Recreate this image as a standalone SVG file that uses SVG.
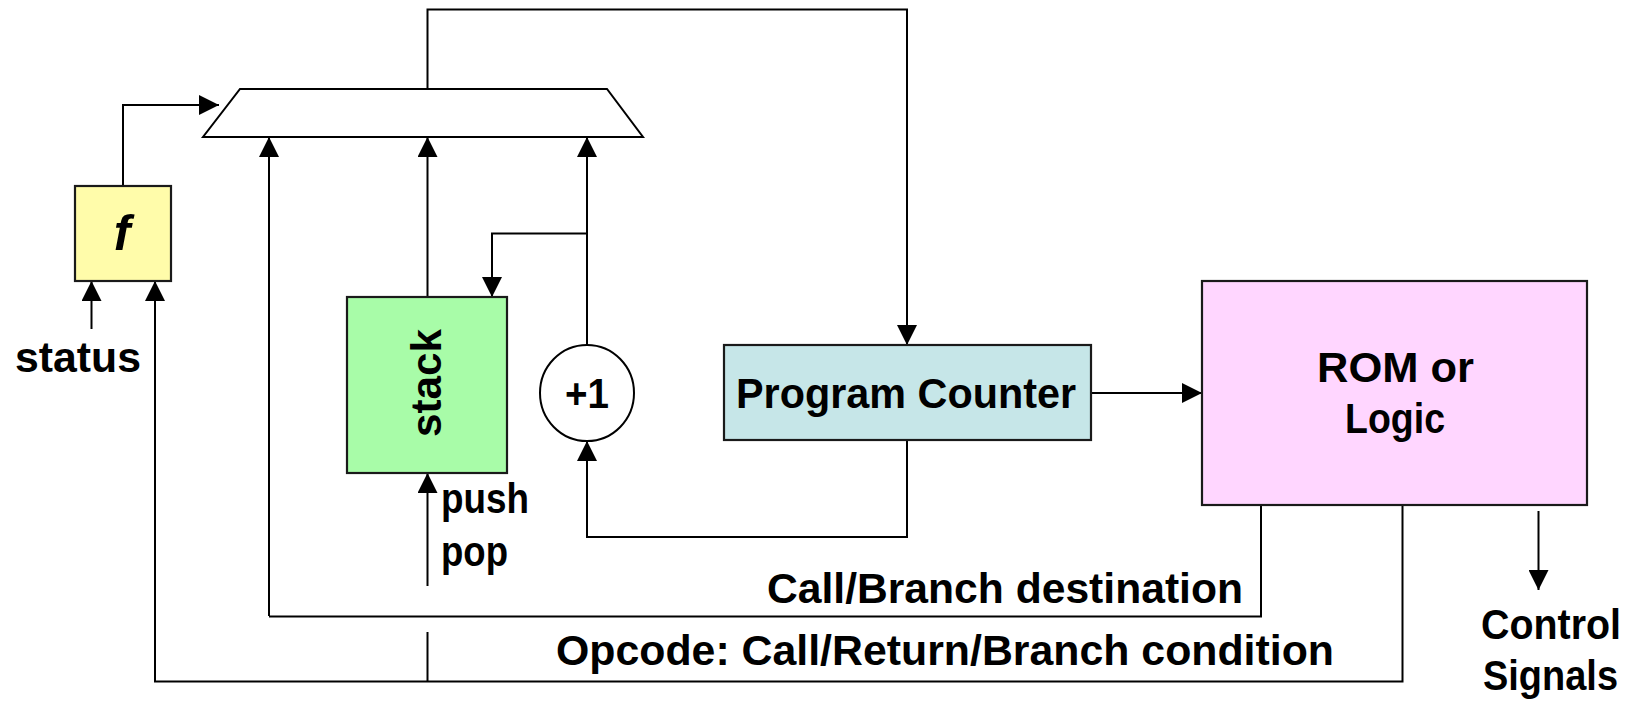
<svg xmlns="http://www.w3.org/2000/svg" width="1635" height="702" viewBox="0 0 1635 702">
  <style>
    .box { stroke: #1a1a1a; stroke-width: 2.2; }
    .wire { fill: none; stroke: #000; stroke-width: 2; }
    .arr { marker-end: url(#head); }
    text { font-family: "Liberation Sans", Arial, sans-serif; font-weight: bold; font-size: 42px; fill: #000; }
  </style>
  <defs>
    <marker id="head" viewBox="0 0 20 20" refX="20" refY="10" markerWidth="20" markerHeight="20" markerUnits="userSpaceOnUse" orient="auto">
      <path d="M0,0 L20,10 L0,20 z" fill="#000"/>
    </marker>
  </defs>
  <rect width="1635" height="702" fill="#fff"/>

  <!-- connectors -->
  <g id="connectors">
    <!-- mux output back to the program counter -->
    <polyline class="wire arr" points="427.5,89 427.5,9.5 907,9.5 907,345"/>
    <!-- f output to mux select -->
    <polyline class="wire arr" points="123,186 123,105 219,105"/>
    <!-- mux data inputs -->
    <polyline class="wire arr" points="269,616 269,137"/>
    <polyline class="wire arr" points="427.5,297 427.5,137"/>
    <polyline class="wire arr" points="587,345 587,137"/>
    <!-- incremented PC to stack -->
    <polyline class="wire arr" points="587,233.5 492,233.5 492,297"/>
    <!-- PC back to incrementer -->
    <polyline class="wire arr" points="907,440 907,537 587,537 587,441"/>
    <!-- PC to ROM -->
    <polyline class="wire arr" points="1091,393 1202,393"/>
    <!-- call/branch destination -->
    <polyline class="wire" points="1261,505 1261,616.5 269,616.5"/>
    <!-- opcode -->
    <polyline class="wire arr" points="1402.5,505 1402.5,681.5 155,681.5 155,281"/>
    <!-- push/pop control -->
    <polyline class="wire arr" points="427.5,586 427.5,473"/>
    <polyline class="wire" points="427.5,632 427.5,681.5"/>
    <!-- status into f -->
    <polyline class="wire arr" points="91.5,329 91.5,281"/>
    <!-- control signals out -->
    <polyline class="wire arr" points="1538.5,511 1538.5,590"/>
  </g>

  <g id="mux">
    <polygon points="240,89 607,89 643,137 203,137" fill="#fff" stroke="#000" stroke-width="2"/>
  </g>

  <g id="f-block">
    <rect class="box" x="75" y="186" width="96" height="95" fill="#FFFCAA"/>
    <text x="122" y="250" text-anchor="middle" font-style="italic" style="font-size:50px">f</text>
  </g>

  <g id="stack">
    <rect class="box" x="347" y="297" width="160" height="176" fill="#A8FCA8"/>
    <text transform="translate(441,383) rotate(-90)" text-anchor="middle" textLength="108" lengthAdjust="spacingAndGlyphs">stack</text>
  </g>

  <g id="incrementer">
    <ellipse cx="587" cy="393" rx="47" ry="48" fill="#fff" stroke="#000" stroke-width="2"/>
    <text x="587" y="408" text-anchor="middle" textLength="44" lengthAdjust="spacingAndGlyphs">+1</text>
  </g>

  <g id="program-counter">
    <rect class="box" x="724" y="345" width="367" height="95" fill="#C6E6E8"/>
    <text x="736" y="408" textLength="340" lengthAdjust="spacingAndGlyphs">Program Counter</text>
  </g>

  <g id="rom">
    <rect class="box" x="1202" y="281" width="385" height="224" fill="#FFD6FF"/>
    <text x="1317" y="382" textLength="157" lengthAdjust="spacingAndGlyphs">ROM or</text>
    <text x="1345" y="433" textLength="100" lengthAdjust="spacingAndGlyphs">Logic</text>
  </g>

  <g id="labels">
    <text x="15" y="372" textLength="126" lengthAdjust="spacingAndGlyphs">status</text>
    <text x="441" y="513" textLength="88" lengthAdjust="spacingAndGlyphs">push</text>
    <text x="441" y="566" textLength="67" lengthAdjust="spacingAndGlyphs">pop</text>
    <text x="767" y="603" textLength="476" lengthAdjust="spacingAndGlyphs">Call/Branch destination</text>
    <text x="556" y="665" textLength="778" lengthAdjust="spacingAndGlyphs">Opcode: Call/Return/Branch condition</text>
    <text x="1481" y="639" textLength="140" lengthAdjust="spacingAndGlyphs">Control</text>
    <text x="1483" y="690" textLength="135" lengthAdjust="spacingAndGlyphs">Signals</text>
  </g>
</svg>
